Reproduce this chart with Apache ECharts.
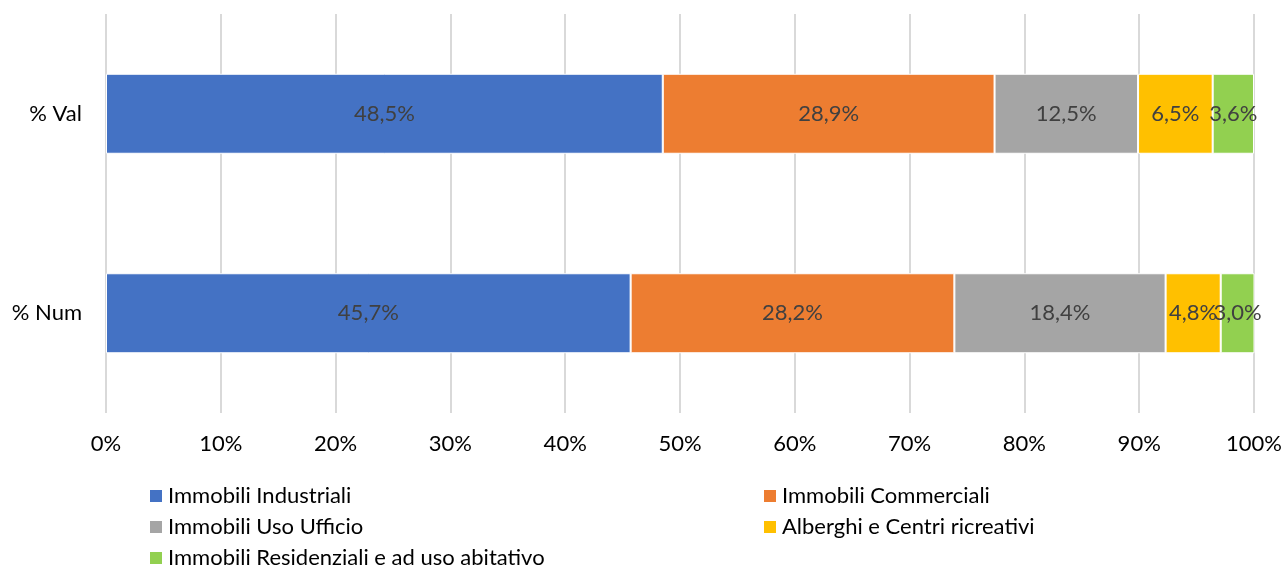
<!DOCTYPE html>
<html>
<head>
<meta charset="utf-8">
<script src="https://cdn.jsdelivr.net/npm/echarts@6/dist/echarts.min.js"></script>
<style>
  html, body { margin: 0; padding: 0; background: #fff; }
  #chart { width: 1281px; height: 570px; }
</style>
</head>
<body>
<div id="chart"></div>
<script>
// Categories (bottom to top on the vertical axis)
const categories = ['% Num', '% Val'];

// Share of each property type, in percent
const industriali   = [45.7, 48.5];
const commerciali   = [28.2, 28.9];
const ufficio       = [18.4, 12.5];
const alberghi      = [4.8, 6.5];
const residenziali  = [3.0, 3.6];

const seriesNames = [
  'Immobili Industriali',
  'Immobili Commerciali',
  'Immobili Uso Ufficio',
  'Alberghi e Centri ricreativi',
  'Immobili Residenziali e ad uso abitativo'
];
const seriesValues = [industriali, commerciali, ufficio, alberghi, residenziali];
const colors = ['#4472C4', '#ED7D31', '#A5A5A5', '#FFC000', '#92D050'];

const FONT = 'Lato, "Open Sans", sans-serif';
const FS = 22;

const chart = echarts.init(document.getElementById('chart'), null, { renderer: 'canvas' });

const series = seriesNames.map((name, i) => ({
  name: name,
  type: 'bar',
  stack: 'total',
  barWidth: 80,
  data: seriesValues[i],
  itemStyle: { color: colors[i], borderColor: '#ffffff', borderWidth: 1 },
  label: {
    show: true,
    position: 'inside',
    color: '#404040',
    fontFamily: FONT,
    fontSize: FS,
    formatter: p => p.value.toFixed(1).replace('.', ',') + '%'
  }
}));

const legendCommon = {
  orient: 'vertical',
  top: 485,
  height: 120,
  padding: 0,
  itemGap: 9,
  itemWidth: 14,
  itemHeight: 14,
  icon: 'rect',
  textStyle: { color: '#000', fontFamily: FONT, fontSize: FS, lineHeight: 22 }
};

chart.setOption({
  animation: false,
  color: colors,
  grid: {
    left: 106, right: 27, top: 14, bottom: 157,
    containLabel: false,
    outerBoundsMode: 'none'
  },
  xAxis: {
    type: 'value',
    min: 0,
    max: 100,
    interval: 10,
    axisLine: { show: false },
    axisTick: { show: false },
    splitLine: { show: true, lineStyle: { color: '#d9d9d9', width: 2 } },
    axisLabel: {
      margin: 20,
      color: '#000',
      fontFamily: FONT,
      fontSize: FS,
      formatter: v => v + '%'
    }
  },
  yAxis: {
    type: 'category',
    data: categories,
    axisLine: { show: false },
    axisTick: { show: false },
    axisLabel: { margin: 24, color: '#000', fontFamily: FONT, fontSize: FS }
  },
  legend: [
    Object.assign({}, legendCommon, {
      left: 148,
      data: [seriesNames[0], seriesNames[2], seriesNames[4]]
    }),
    Object.assign({}, legendCommon, {
      left: 762,
      data: [seriesNames[1], seriesNames[3]]
    })
  ],
  series: series
});
</script>
</body>
</html>
